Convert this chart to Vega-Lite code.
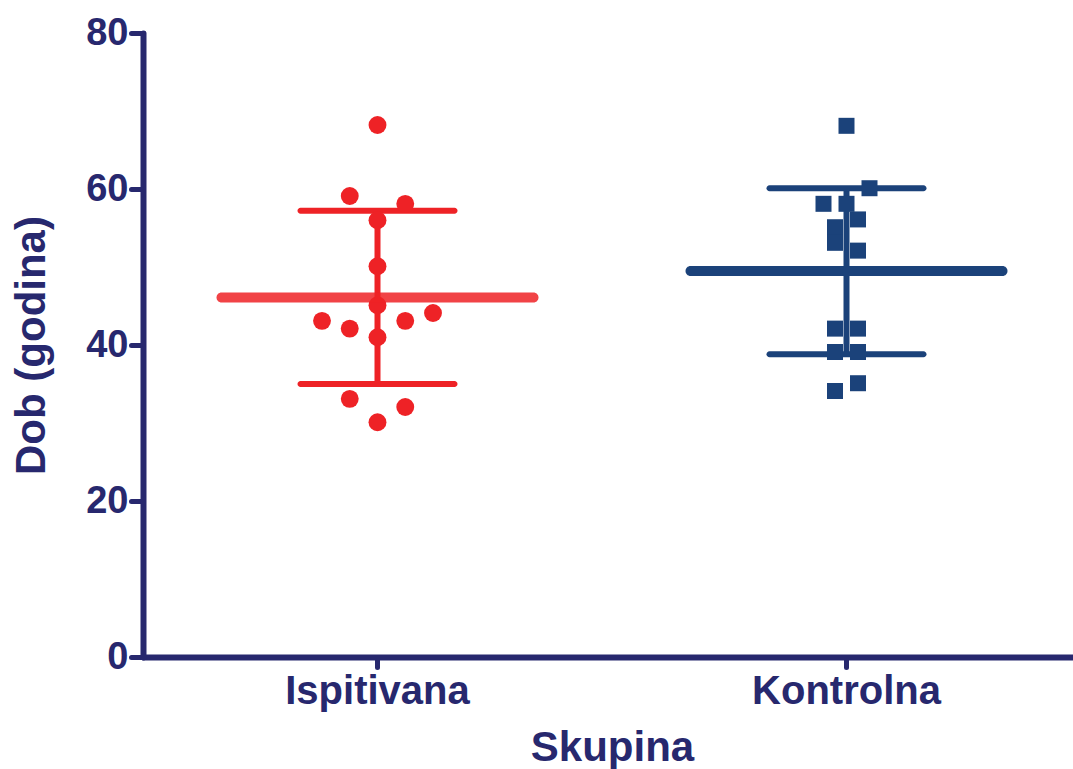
{
  "$schema": "https://vega.github.io/schema/vega-lite/v6.json",
  "width": 930,
  "height": 624,
  "autosize": {"type": "none"},
  "padding": {"left": 143, "top": 33, "right": 0, "bottom": 112},
  "background": "white",
  "config": {
    "view": {"stroke": null},
    "axis": {
      "grid": false,
      "domainColor": "#27286E",
      "domainWidth": 6,
      "domainCap": "round",
      "tickColor": "#27286E",
      "tickWidth": 5,
      "tickCap": "round",
      "labelColor": "#27286E",
      "labelFont": "Liberation Sans",
      "labelFontWeight": "bold",
      "labelFontSize": 38,
      "labelLimit": 0,
      "titleColor": "#27286E",
      "titleFont": "Liberation Sans",
      "titleFontWeight": "bold",
      "titleFontSize": 42
    },
    "axisY": {"tickSize": 12, "labelPadding": 3, "titlePadding": 32},
    "axisX": {"tickSize": 10, "labelPadding": 4, "titlePadding": 16, "labelAngle": 0, "labelFontSize": 40}
  },
  "datasets": {
    "isp": [
      {"group": "Ispitivana", "age": 68.2, "slot": 0},
      {"group": "Ispitivana", "age": 59.1, "slot": -1},
      {"group": "Ispitivana", "age": 58.1, "slot": 1},
      {"group": "Ispitivana", "age": 56.0, "slot": 0},
      {"group": "Ispitivana", "age": 50.1, "slot": 0},
      {"group": "Ispitivana", "age": 45.1, "slot": 0},
      {"group": "Ispitivana", "age": 43.1, "slot": -2},
      {"group": "Ispitivana", "age": 42.1, "slot": -1},
      {"group": "Ispitivana", "age": 43.1, "slot": 1},
      {"group": "Ispitivana", "age": 44.1, "slot": 2},
      {"group": "Ispitivana", "age": 41.0, "slot": 0},
      {"group": "Ispitivana", "age": 33.1, "slot": -1},
      {"group": "Ispitivana", "age": 32.05, "slot": 1},
      {"group": "Ispitivana", "age": 30.1, "slot": 0}
    ],
    "kon": [
      {"group": "Kontrolna", "age": 68.1, "slot": 0},
      {"group": "Kontrolna", "age": 60.1, "slot": 2},
      {"group": "Kontrolna", "age": 58.1, "slot": -2},
      {"group": "Kontrolna", "age": 58.1, "slot": 0},
      {"group": "Kontrolna", "age": 56.1, "slot": 1},
      {"group": "Kontrolna", "age": 55.1, "slot": -1},
      {"group": "Kontrolna", "age": 53.1, "slot": -1},
      {"group": "Kontrolna", "age": 52.1, "slot": 1},
      {"group": "Kontrolna", "age": 42.1, "slot": -1},
      {"group": "Kontrolna", "age": 42.1, "slot": 1},
      {"group": "Kontrolna", "age": 39.1, "slot": -1},
      {"group": "Kontrolna", "age": 39.1, "slot": 1},
      {"group": "Kontrolna", "age": 35.1, "slot": 1},
      {"group": "Kontrolna", "age": 34.1, "slot": -1}
    ],
    "summary": [
      {"group": "Ispitivana", "mean": 46.1, "lower": 35.0, "upper": 57.2},
      {"group": "Kontrolna", "mean": 49.5, "lower": 38.8, "upper": 60.1}
    ]
  },
  "encoding": {
    "x": {
      "field": "group",
      "type": "nominal",
      "title": "Skupina",
      "scale": {"domain": ["Ispitivana", "Kontrolna"], "range": [0, 938], "paddingInner": 0, "paddingOuter": 0}
    },
    "color": {
      "field": "group",
      "type": "nominal",
      "legend": null,
      "scale": {"domain": ["Ispitivana", "Kontrolna"], "range": ["#EE2226", "#1B427A"]}
    }
  },
  "layer": [
    {
      "data": {"name": "summary"},
      "mark": {"type": "rule", "strokeWidth": 6},
      "encoding": {
        "y": {"field": "lower", "type": "quantitative", "title": "Dob (godina)", "scale": {"domain": [0, 80], "nice": false}, "axis": {"values": [0, 20, 40, 60, 80]}},
        "y2": {"field": "upper"}
      }
    },
    {
      "data": {"name": "summary"},
      "mark": {"type": "tick", "size": 160, "thickness": 6, "cornerRadius": 3, "opacity": 1},
      "encoding": {
        "y": {"field": "lower", "type": "quantitative", "title": "Dob (godina)"}
      }
    },
    {
      "data": {"name": "summary"},
      "mark": {"type": "tick", "size": 160, "thickness": 6, "cornerRadius": 3, "opacity": 1},
      "encoding": {
        "y": {"field": "upper", "type": "quantitative", "title": "Dob (godina)"}
      }
    },
    {
      "data": {"name": "isp"},
      "mark": {"type": "point", "shape": "circle", "filled": true, "size": 320, "opacity": 1},
      "encoding": {
        "xOffset": {"field": "slot", "type": "ordinal", "scale": {"type": "point", "domain": [-2, -1, 0, 1, 2], "range": [179, 290], "padding": 0}},
        "y": {"field": "age", "type": "quantitative", "title": "Dob (godina)"}
      }
    },
    {
      "data": {"name": "kon"},
      "mark": {"type": "point", "shape": "square", "filled": true, "size": 256, "opacity": 1},
      "encoding": {
        "xOffset": {"field": "slot", "type": "ordinal", "scale": {"type": "point", "domain": [-2, -1, 0, 1, 2], "range": [211.5, 257.5], "padding": 0}},
        "y": {"field": "age", "type": "quantitative", "title": "Dob (godina)"}
      }
    },
    {
      "data": {"name": "summary"},
      "mark": {"type": "tick", "size": 322, "thickness": 10, "cornerRadius": 5},
      "encoding": {
        "y": {"field": "mean", "type": "quantitative", "title": "Dob (godina)"},
        "opacity": {"field": "group", "type": "nominal", "legend": null, "scale": {"domain": ["Ispitivana", "Kontrolna"], "range": [0.85, 1]}}
      }
    }
  ],
  "resolve": {"scale": {"xOffset": "independent"}}
}
